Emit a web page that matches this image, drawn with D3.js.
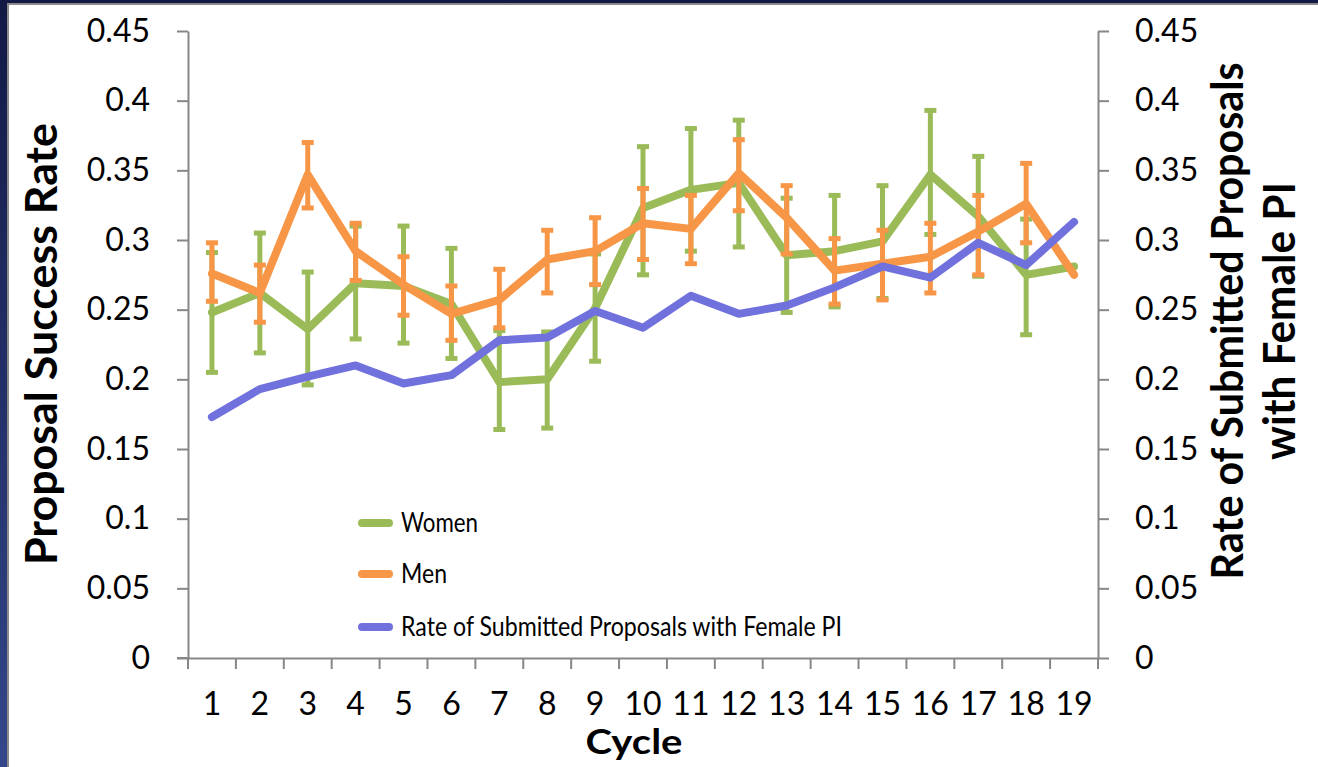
<!DOCTYPE html>
<html>
<head>
<meta charset="utf-8">
<script src="https://cdn.jsdelivr.net/npm/d3@7"></script>
<style>
  html, body { margin: 0; padding: 0; background: #1a2352; overflow: hidden; }
  svg { display: block; }
  text { font-family: Lato, "Open Sans", sans-serif; fill: #000; }
</style>
</head>
<body>
<svg id="chart" width="1318" height="767"></svg>
<script>
// ---------- data ----------
const cycles = ["1","2","3","4","5","6","7","8","9","10","11","12","13","14","15","16","17","18","19"];
const women      = [0.248,0.262,0.236,0.269,0.267,0.254,0.198,0.200,0.251,0.323,0.336,0.341,0.289,0.292,0.299,0.347,0.317,0.275,0.281];
const womenHigh  = [0.291,0.305,0.277,0.310,0.310,0.294,0.235,0.234,0.290,0.367,0.380,0.386,0.330,0.332,0.339,0.393,0.360,0.315,null];
const womenLow   = [0.205,0.219,0.196,0.229,0.226,0.215,0.164,0.165,0.213,0.275,0.292,0.295,0.248,0.252,0.258,0.304,0.274,0.232,null];
const men        = [0.276,0.262,0.347,0.292,0.268,0.247,0.257,0.286,0.292,0.312,0.308,0.348,0.316,0.278,0.283,0.288,0.306,0.326,0.275];
const menHigh    = [0.298,0.282,0.370,0.312,0.288,0.267,0.279,0.307,0.316,0.337,0.332,0.372,0.339,0.301,0.307,0.312,0.332,0.355,null];
const menLow     = [0.256,0.241,0.323,0.271,0.246,0.228,0.237,0.262,0.268,0.286,0.283,0.321,0.290,0.254,0.257,0.262,0.275,0.298,null];
const femalePI   = [0.173,0.193,0.202,0.210,0.197,0.203,0.228,0.230,0.249,0.237,0.260,0.247,0.253,0.266,0.281,0.273,0.298,0.282,0.313];
const yTicks = [0,0.05,0.1,0.15,0.2,0.25,0.3,0.35,0.4,0.45];
const yTickLabels = ["0","0.05","0.1","0.15","0.2","0.25","0.3","0.35","0.4","0.45"];
const seriesNames = ["Women","Men","Rate of Submitted Proposals with Female PI"];
const leftTitle = "Proposal Success Rate";
const rightTitle = ["Rate of Submitted Proposals","with Female PI"];
const xTitle = "Cycle";

// ---------- layout ----------
const W = 1318, H = 767;
const plot = {left: 188, right: 1098, top: 31, bottom: 658};
const colors = {women: "#9BBB59", men: "#F79646", pi: "#7171DE", axis: "#878787"};

const svg = d3.select("#chart");
const defs = svg.append("defs");
const grad = defs.append("linearGradient").attr("id","bg").attr("x1",0).attr("y1",0).attr("x2",0).attr("y2",1);
grad.append("stop").attr("offset","0%").attr("stop-color","#121945");
grad.append("stop").attr("offset","100%").attr("stop-color","#34478a");
svg.append("rect").attr("width",W).attr("height",H).attr("fill","url(#bg)");
svg.append("rect").attr("x",8).attr("y",4).attr("width",W).attr("height",H)
  .attr("fill","#fff").attr("stroke","#8a8a8a").attr("stroke-width",2);

const x = d3.scaleBand().domain(cycles).range([plot.left, plot.right]).padding(0);
const y = d3.scaleLinear().domain([0,0.45]).range([plot.bottom, plot.top]);
const y2 = d3.scaleLinear().domain([0,0.45]).range([plot.bottom, plot.top]);
const cx = c => x(c) + x.bandwidth()/2;

function fit(sel, target) {
  sel.each(function() {
    const len = this.getComputedTextLength();
    if (len > 0) d3.select(this).attr("textLength", target).attr("lengthAdjust","spacingAndGlyphs");
  });
}

// ---------- axes ----------
const fmt = d => yTickLabels[yTicks.indexOf(d)];
const gL = svg.append("g").attr("transform",`translate(${plot.left},0)`)
  .call(d3.axisLeft(y).tickValues(yTicks).tickFormat(fmt).tickSize(11).tickPadding(27).tickSizeOuter(0));
const gR = svg.append("g").attr("transform",`translate(${plot.right},0)`)
  .call(d3.axisRight(y2).tickValues(yTicks).tickFormat(fmt).tickSize(11).tickPadding(26).tickSizeOuter(0));
const gX = svg.append("g").attr("transform",`translate(0,${plot.bottom})`)
  .call(d3.axisBottom(x).tickSize(0).tickPadding(34).tickSizeOuter(0));
// boundary ticks for category axis
const bounds = cycles.map(c => x(c)).concat([plot.right]);
gX.selectAll("line.bt").data(bounds).enter().append("line").attr("class","bt")
  .attr("x1",d=>d).attr("x2",d=>d).attr("y1",0).attr("y2",11);
gX.append("line").attr("x1",plot.left-11).attr("x2",plot.left).attr("y1",0).attr("y2",0);

[gL,gR,gX].forEach(g => {
  g.selectAll("path.domain").attr("stroke",colors.axis).attr("stroke-width",2);
  g.selectAll("line").attr("stroke",colors.axis).attr("stroke-width",2);
  g.selectAll("text").attr("font-size",32).attr("font-family","Lato, 'Open Sans', sans-serif").attr("fill","#000");
});

// ---------- series ----------
const idx = d3.range(cycles.length);
const lineGen = vals => d3.line().x(i => cx(cycles[i])).y(i => y(vals[i]))(idx);

function drawSeries(vals, hi, lo, color) {
  const g = svg.append("g");
  if (hi) {
    const eb = idx.filter(i => hi[i] != null);
    g.selectAll("line.v").data(eb).enter().append("line")
      .attr("x1",i=>cx(cycles[i])).attr("x2",i=>cx(cycles[i]))
      .attr("y1",i=>y(hi[i])).attr("y2",i=>y(lo[i]))
      .attr("stroke",color).attr("stroke-width",5);
    [hi, lo].forEach(arr => {
      g.selectAll(null).data(eb).enter().append("line")
        .attr("x1",i=>cx(cycles[i])-6).attr("x2",i=>cx(cycles[i])+6)
        .attr("y1",i=>y(arr[i])).attr("y2",i=>y(arr[i]))
        .attr("stroke",color).attr("stroke-width",5);
    });
  }
  g.append("path").attr("d", lineGen(vals)).attr("fill","none")
    .attr("stroke",color).attr("stroke-width",8)
    .attr("stroke-linejoin","round").attr("stroke-linecap","round");
}
drawSeries(women, womenHigh, womenLow, colors.women);
drawSeries(men, menHigh, menLow, colors.men);
drawSeries(femalePI, null, null, colors.pi);

// ---------- legend ----------
const legY = [523, 574, 627];
const legW = [77, 46, 441];
const legC = [colors.women, colors.men, colors.pi];
const leg = svg.append("g");
seriesNames.forEach((n, i) => {
  leg.append("line").attr("x1",362).attr("x2",389).attr("y1",legY[i]).attr("y2",legY[i])
    .attr("stroke",legC[i]).attr("stroke-width",8).attr("stroke-linecap","round");
  leg.append("text").attr("x",401).attr("y",legY[i]+9).attr("font-size",26).text(n).call(fit, legW[i]);
});

// ---------- titles ----------
svg.append("text").attr("transform","translate(57,344) rotate(-90)")
  .attr("text-anchor","middle").attr("font-size",44).attr("font-weight","bold")
  .text(leftTitle).call(fit, 442);
svg.append("text").attr("transform","translate(1243,321) rotate(-90)")
  .attr("text-anchor","middle").attr("font-size",44).attr("font-weight","bold")
  .text(rightTitle[0]).call(fit, 517);
svg.append("text").attr("transform","translate(1295,321) rotate(-90)")
  .attr("text-anchor","middle").attr("font-size",44).attr("font-weight","bold")
  .text(rightTitle[1]).call(fit, 278);
svg.append("text").attr("x",634).attr("y",754)
  .attr("text-anchor","middle").attr("font-size",34).attr("font-weight","bold")
  .text(xTitle).call(fit, 97);
</script>
</body>
</html>
